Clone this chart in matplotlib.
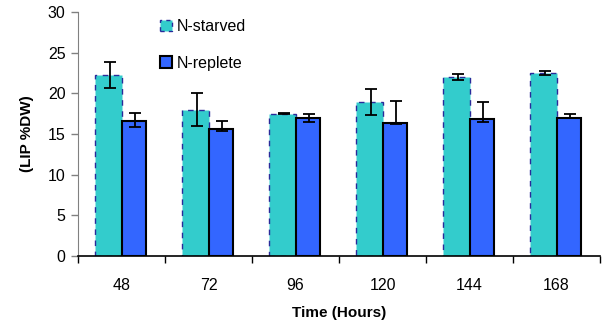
import numpy as np
import matplotlib
matplotlib.use("Agg")
import matplotlib.pyplot as plt
from matplotlib.patches import Patch

plt.rcParams["font.family"] = ["Liberation Sans", "DejaVu Sans"]

# lipid content per time point
hours = ["48", "72", "96", "120", "144", "168"]
starved = [22.3, 18.0, 17.5, 18.9, 22.0, 22.5]
starved_lo = [1.6, 2.05, 0.05, 1.6, 0.35, 0.3]
starved_hi = [1.6, 2.0, 0.05, 1.6, 0.35, 0.25]
replete = [16.6, 15.6, 17.0, 16.4, 16.8, 17.0]
replete_lo = [0.75, 0.25, 0.55, 0.15, 0.35, 0.05]
replete_hi = [1.0, 1.0, 0.5, 2.65, 2.15, 0.4]

fig = plt.figure(figsize=(6.02, 3.22), dpi=100)
ax = fig.add_axes([0.1296, 0.205, 0.8671, 0.758])

x = np.arange(len(hours))
w = 0.3

ax.bar(x - w / 2, starved, w, color="#33CCCC", edgecolor="#2a2a9a",
       linestyle=(0, (4, 4)), linewidth=1.0, zorder=2)
ax.bar(x + w / 2 - 0.01, replete, w - 0.02, color="#3366FF", edgecolor="black",
       linewidth=1.5, zorder=2)

ax.errorbar(x - w / 2 + 0.02, starved, yerr=[starved_lo, starved_hi], fmt="none",
            ecolor="black", elinewidth=1.3, capsize=4.5, capthick=1.3, zorder=3)
ax.errorbar(x + w / 2, replete, yerr=[replete_lo, replete_hi], fmt="none",
            ecolor="black", elinewidth=1.3, capsize=4.5, capthick=1.3, zorder=3)

ax.set_xlim(-0.5, len(hours) - 0.5)
ax.set_ylim(0, 30)
ax.set_yticks(range(0, 31, 5))
ax.set_xticks(x)
ax.set_xticklabels(hours, fontsize=11.5)
ax.set_xticks(np.arange(-0.5, len(hours), 1), minor=True)
ax.tick_params(axis="x", which="major", length=0, pad=16)
ax.tick_params(axis="x", which="minor", length=5, width=1, color="black")
ax.tick_params(axis="y", length=5, width=1, color="#808080", labelsize=11.5, pad=4)

ax.spines["top"].set_visible(False)
ax.spines["right"].set_visible(False)
ax.spines["left"].set_color("#808080")
ax.spines["bottom"].set_color("black")
ax.spines["bottom"].set_linewidth(1.2)

ax.set_xlabel("Time (Hours)", fontsize=11, fontweight="bold", labelpad=9)
ax.set_ylabel("(LIP %DW)", fontsize=11, fontweight="bold", labelpad=10)

handles = [
    Patch(facecolor="#33CCCC", edgecolor="#2a2a9a", linestyle=(0, (3, 3)), linewidth=1.0),
    Patch(facecolor="#3366FF", edgecolor="black", linewidth=1.5),
]
ax.legend(handles, ["N-starved", "N-replete"], loc="upper left",
          bbox_to_anchor=(0.13, 1.03), frameon=False, fontsize=11.5,
          handlelength=0.75, handleheight=0.75, handletextpad=0.3, labelspacing=1.35)

fig.savefig("out.png", dpi=100)
